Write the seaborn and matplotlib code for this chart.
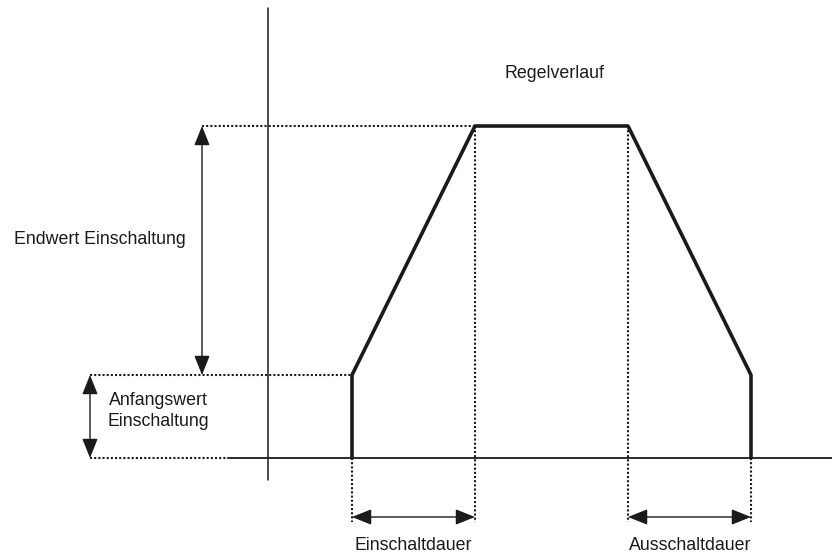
import matplotlib
matplotlib.use("Agg")
import matplotlib.pyplot as plt
import seaborn as sns
import pandas as pd

# diagram in pixel-like units (x to the right, y downward)
profile_x = [352, 352, 475, 628, 751, 751]
profile_y = [458, 375, 126, 126, 375, 458]

axis_x = 268          # vertical axis position
axis_y = 458          # baseline
end_level = 126       # Endwert
start_level = 375     # Anfangswert
dur_y = 517           # level of duration arrows

labels = {
    "title": "Regelverlauf",
    "end": "Endwert Einschaltung",
    "start": "Anfangswert\nEinschaltung",
    "on": "Einschaltdauer",
    "off": "Ausschaltdauer",
}

sns.set_theme(style="white")
plt.rcParams["font.family"] = ["Liberation Sans", "DejaVu Sans"]

fig = plt.figure(figsize=(8.32, 5.56), dpi=100)
ax = fig.add_axes([0, 0, 1, 1])

ink = "#1a1a1a"

# axes
ax.plot([axis_x, axis_x], [8, 480], color=ink, lw=1.1)
ax.plot([228, 832], [axis_y, axis_y], color=ink, lw=1.3)

# dotted guides
dot = dict(color=ink, lw=1.5, linestyle=(0, (1, 1)))
ax.plot([202, profile_x[2]], [end_level, end_level], **dot)
ax.plot([90, profile_x[1]], [start_level, start_level], **dot)
ax.plot([90, 228], [axis_y, axis_y], **dot)
ax.plot([profile_x[2], profile_x[2]], [end_level, dur_y + 5], **dot)
ax.plot([profile_x[3], profile_x[3]], [end_level, dur_y + 5], **dot)
ax.plot([profile_x[0], profile_x[0]], [axis_y, dur_y + 5], **dot)
ax.plot([profile_x[5], profile_x[5]], [axis_y, dur_y + 5], **dot)

# profile
df = pd.DataFrame({"x": profile_x, "y": profile_y})
sns.lineplot(data=df, x="x", y="y", sort=False, color=ink, lw=2.6, ax=ax,
             estimator=None)
ax.set_xlim(0, 832)
ax.set_ylim(556, 0)
ax.axis("off")

arrow = dict(arrowstyle="<|-|>,head_length=1.0,head_width=0.4", color=ink,
             lw=1.0, shrinkA=0, shrinkB=0)
ax.annotate("", xy=(202, end_level), xytext=(202, start_level), arrowprops=arrow)
ax.annotate("", xy=(90, start_level), xytext=(90, axis_y), arrowprops=arrow)
ax.annotate("", xy=(profile_x[0], dur_y), xytext=(profile_x[2], dur_y), arrowprops=arrow)
ax.annotate("", xy=(profile_x[3], dur_y), xytext=(profile_x[5], dur_y), arrowprops=arrow)

fs = 12.8
ax.text(554, 73, labels["title"], ha="center", va="center", fontsize=fs, color=ink)
ax.text(100, 240, labels["end"], ha="center", va="center", fontsize=fs, color=ink)
ax.text(158, 411, labels["start"], ha="center", va="center", fontsize=fs,
        color=ink, linespacing=1.25)
ax.text(413, 545, labels["on"], ha="center", va="center", fontsize=fs, color=ink)
ax.text(690, 545, labels["off"], ha="center", va="center", fontsize=fs, color=ink)

fig.savefig("out.png", dpi=100, facecolor="white")
